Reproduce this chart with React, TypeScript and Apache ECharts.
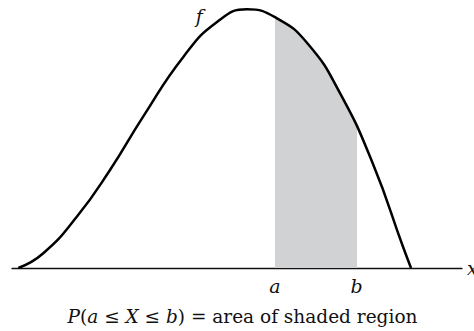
import React, { useEffect, useRef } from "react";
import * as echarts from "echarts";

// Density curve f (x in axis units 0..10, y relative to the peak)
const curveX = [0.14, 0.689, 1.444, 2.178, 2.911, 3.807, 4.556, 5.222, 5.889, 6.578, 7.289, 8.022, 8.689, 8.867];
const curveY = [0, 0.056, 0.199, 0.379, 0.584, 0.816, 0.951, 1.0, 0.965, 0.866, 0.676, 0.402, 0.082, 0];

// Shaded interval [a, b]
const boundLabels = ["a", "b"];
const boundValues = [5.844, 7.656];

const curveLabel = "f";
const curveLabelAt = [4.16, 0.975];
const axisName = "x";
const caption = "{i|P}({i|a} ≤ {i|X} ≤ {i|b}) = area of shaded region";

const FAMILY = "DejaVu Serif";

export default function App() {
  const ref = useRef<HTMLDivElement>(null);
  useEffect(() => {
    if (!ref.current) return;
    const chart = echarts.init(ref.current, null, { renderer: "svg" });
    chart.setOption({
      animation: false,
      backgroundColor: "#ffffff",
      textStyle: { fontFamily: FAMILY },
      grid: { left: 12, right: 12, top: 9.3, bottom: 63 },
      xAxis: {
        type: "value",
        min: 0,
        max: 10,
        axisLine: { show: true, lineStyle: { color: "#111", width: 1.3 } },
        axisTick: { show: false },
        axisLabel: { show: false },
        splitLine: { show: false },
      },
      yAxis: {
        type: "value",
        min: 0,
        max: 1,
        show: false,
        splitLine: { show: false },
      },
      visualMap: {
        type: "piecewise",
        show: false,
        dimension: 0,
        seriesIndex: 0,
        pieces: [{ gte: boundValues[0], lte: boundValues[1], color: "#d1d2d4" }],
        outOfRange: { color: "rgba(255,255,255,0)" },
      },
      series: [
        {
          type: "line",
          data: curveX.map((x, i) => [x, curveY[i]]),
          smooth: 0.5,
          symbol: "none",
          clip: false,
          lineStyle: { color: "#000", width: 2.5 },
          areaStyle: { opacity: 1 },
          silent: true,
        },
      ],
    });

    const toPx = (p: number[]) => chart.convertToPixel({ gridIndex: 0 }, p) as number[];
    const axisEnd = toPx([10, 0]);
    const fPos = toPx(curveLabelAt);
    const italic = (text: string, x: number, y: number, align: string) => ({
      type: "text",
      x,
      y,
      style: {
        text,
        fontFamily: FAMILY,
        fontStyle: "italic",
        fontSize: 19,
        fill: "#111",
        align,
        verticalAlign: "middle",
      },
    });
    const elements: any[] = boundValues.map((v, i) => {
      const p = toPx([v, 0]);
      return italic(boundLabels[i], p[0], p[1] + 18, "center");
    });
    elements.push(italic(curveLabel, fPos[0], fPos[1], "center"));
    elements.push(italic(axisName, axisEnd[0] + 5, axisEnd[1], "left"));
    elements.push({
      type: "text",
      x: 242.5,
      y: 316.5,
      style: {
        text: caption,
        fontFamily: FAMILY,
        fontSize: 18.5,
        fill: "#111",
        align: "center",
        verticalAlign: "middle",
        rich: {
          i: { fontFamily: FAMILY, fontStyle: "italic", fontSize: 18.5, fill: "#111" },
        },
      },
    });
    chart.setOption({ graphic: { elements } });
    return () => chart.dispose();
  }, []);
  return (
    <div
      ref={ref}
      style={{ position: "absolute", left: 0, top: 0, width: 474, height: 331 }}
    />
  );
}
